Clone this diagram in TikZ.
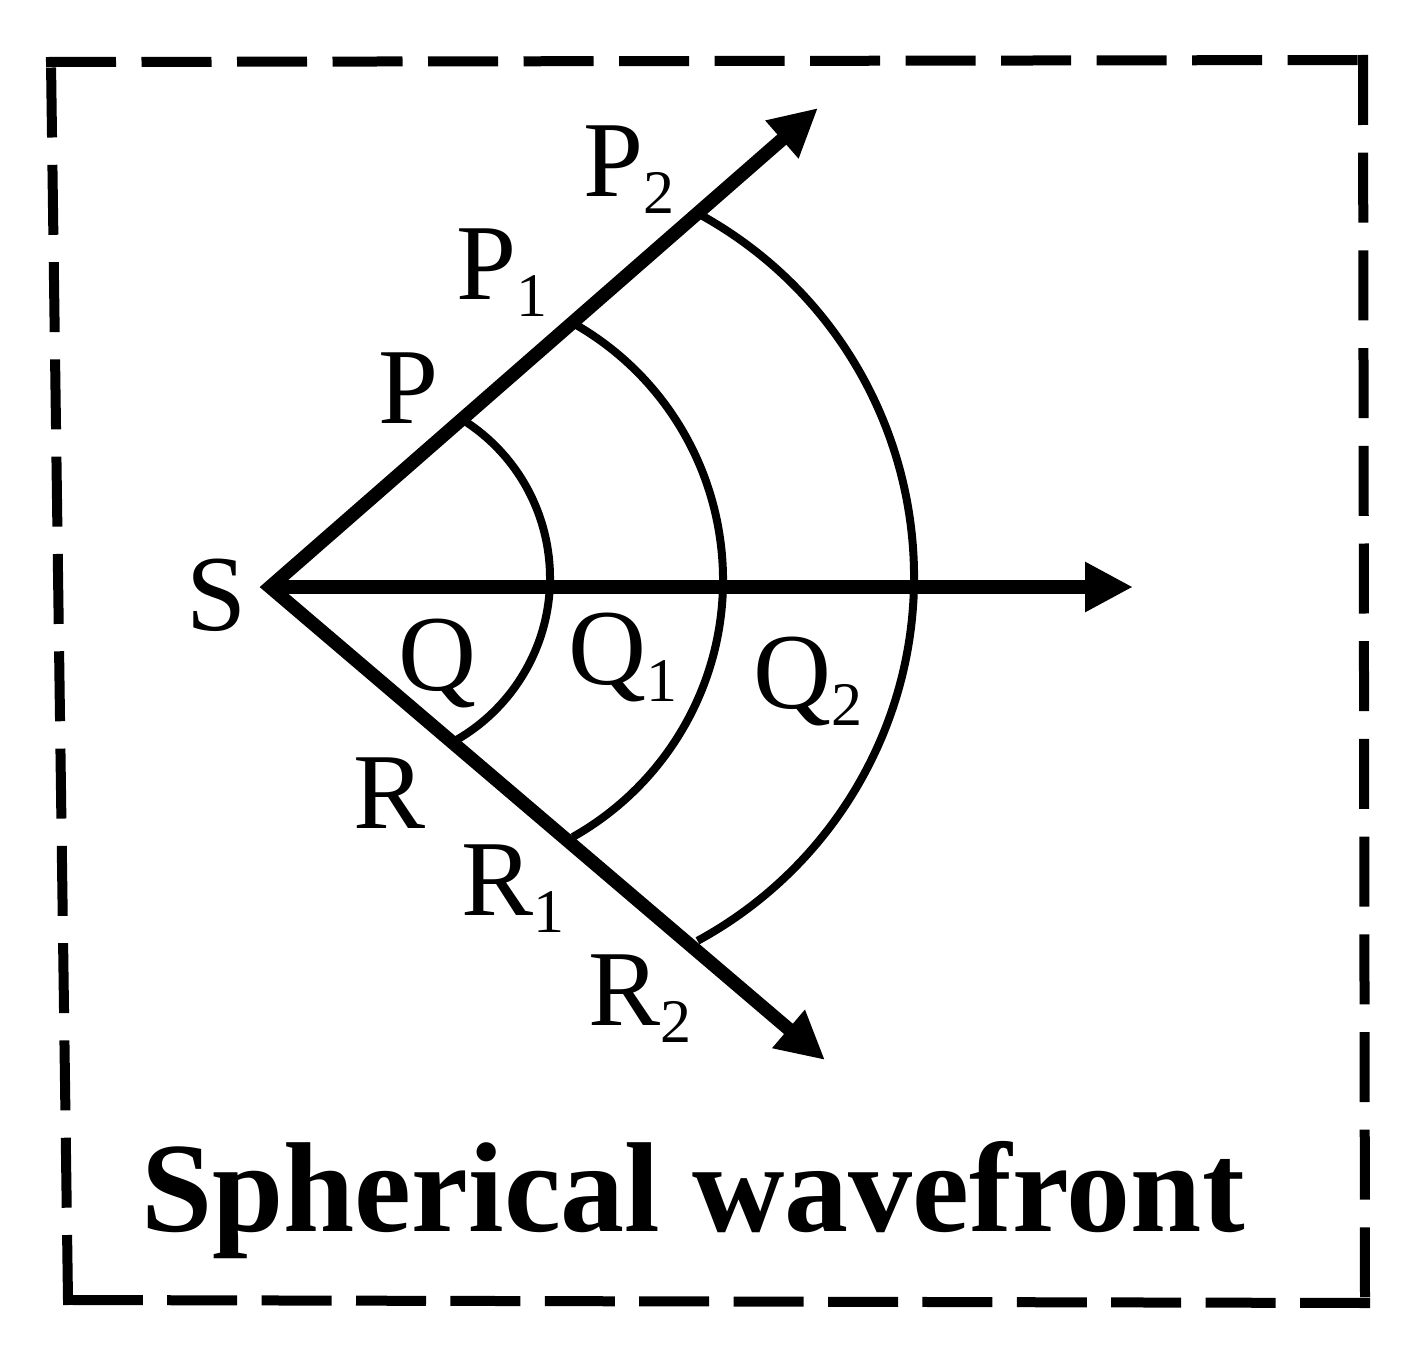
\documentclass[tikz,border=0pt]{standalone}
\usepackage{fontspec}
\setmainfont{Liberation Serif}
\usetikzlibrary{arrows.meta}
\newcommand\mylab[2]{#1\raisebox{-17pt}{\fontsize{62}{62}\selectfont #2}}
\tikzset{
  ray/.style={line width=13.5pt, line join=miter, -{Triangle[length=48pt,width=47pt]}},
  front/.style={line width=8pt},
  frame/.style={line width=10pt, line cap=rect},
  lbl/.style={anchor=base west, inner sep=0pt, outer sep=0pt, font=\fontsize{108}{108}\selectfont},
  ttl/.style={anchor=base, inner sep=0pt, font=\fontsize{128}{128}\selectfont\bfseries}
}
\begin{document}
\begin{tikzpicture}[x=1pt, y=-1pt]
\useasboundingbox (0,0) rectangle (1424,1356);
\fill[white] (0,0) rectangle (1424,1356);
% frame corners
\coordinate (TL) at (51,62);
\coordinate (TR) at (1363,60);
\coordinate (BR) at (1365,1303);
\coordinate (BL) at (68,1300);
\draw[frame, dash pattern=on 60pt off 35.5pt] (TL) -- (TR);
\draw[frame, dash pattern=on 60pt off 37.7pt] (TR) -- (BR);
\draw[frame, dash pattern=on 60pt off 34.4pt] (BR) -- (BL);
\draw[frame, dash pattern=on 60pt off 37.3pt] (BL) -- (TL);
% source and ray tips
\coordinate (S) at (270,587);
\coordinate (Ptip) at (818,108);
\coordinate (Qtip) at (1133,587);
\coordinate (Rtip) at (825,1060);
% arc centres
\coordinate (c1) at (363,578);
\coordinate (c2) at (428,580);
\coordinate (c3) at (500,577);
% wavefronts
\draw[front] ([shift={(-57.7:187)}]c1) arc[start angle=-57.7, end angle=59.9, radius=187];
\draw[front] ([shift={(-60.6:295)}]c2) arc[start angle=-60.6, end angle=60.6, radius=295];
\draw[front] ([shift={(-61.2:414)}]c3) arc[start angle=-61.2, end angle=61.5, radius=414];
% rays
\draw[ray, {Triangle[length=48pt,width=47pt]}-{Triangle[length=48pt,width=47pt]}] (Ptip) -- (S) -- (Rtip);
\draw[ray] (S) -- (Qtip);
% labels
\node[lbl] (lS) at (186,630) {S};
\node[lbl] (lP) at (378,423) {P};
\node[lbl] (lP1) at (456,300) {\mylab{P}{1}};
\node[lbl] (lP2) at (583,197) {\mylab{P}{2}};
\node[lbl] (lQ) at (398,690) {Q};
\node[lbl] (lQ1) at (568,684) {\mylab{Q}{1}};
\node[lbl] (lQ2) at (753,708) {\mylab{Q}{2}};
\node[lbl] (lR) at (353,828) {R};
\node[lbl] (lR1) at (461,915) {\mylab{R}{1}};
\node[lbl] (lR2) at (588,1025) {\mylab{R}{2}};
\node[ttl] (title) at (693,1231) {Spherical wavefront};
\end{tikzpicture}
\end{document}
